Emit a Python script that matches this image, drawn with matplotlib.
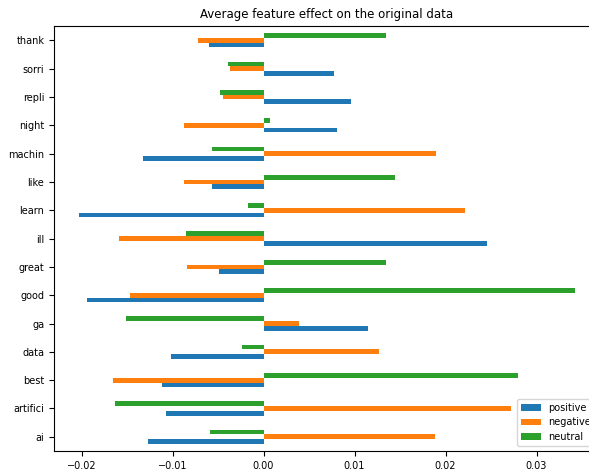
import matplotlib
matplotlib.use("Agg")
import matplotlib.pyplot as plt
import pandas as pd

# DATA
words = ["ai", "artifici", "best", "data", "ga", "good", "great", "ill",
         "learn", "like", "machin", "night", "repli", "sorri", "thank"]
positive = [-0.01271, -0.01077, -0.01117, -0.01022, 0.01150, -0.01945, -0.00495,
            0.02458, -0.02030, -0.00571, -0.01322, 0.00806, 0.00956, 0.00769, -0.00601]
negative = [0.01879, 0.02714, -0.01656, 0.01267, 0.00385, -0.01473, -0.00839,
            -0.01590, 0.02209, -0.00872, 0.01897, -0.00872, -0.00451, -0.00366, -0.00718]
neutral = [-0.00593, -0.01634, 0.02791, -0.00242, -0.01516, 0.03425, 0.01341,
           -0.00850, -0.00176, 0.01447, -0.00571, 0.00073, -0.00484, -0.00388, 0.01341]

title = "Average feature effect on the original data"

TICK_FONTSIZE = 7.0
TITLE_FONTSIZE = 8.5

def plot():
  plt.rcParams['font.size'] = TICK_FONTSIZE
  df = pd.DataFrame({"positive": positive, "negative": negative, "neutral": neutral},
                    index=words)

  fig = plt.figure(figsize=(5.89, 4.71), dpi=100)
  # axes runs past the right edge, like the cropped original
  ax = fig.add_axes([0.0917, 0.0425, 0.927, 0.902])
  df.plot(kind="barh", ax=ax)

  ax.set_title(title, fontsize=TITLE_FONTSIZE)
  ax.tick_params(labelsize=TICK_FONTSIZE)
  ax.legend(loc="lower right", fontsize=TICK_FONTSIZE)

  plt.savefig("out.png", dpi=100)

if __name__ == "__main__":
  plot()
